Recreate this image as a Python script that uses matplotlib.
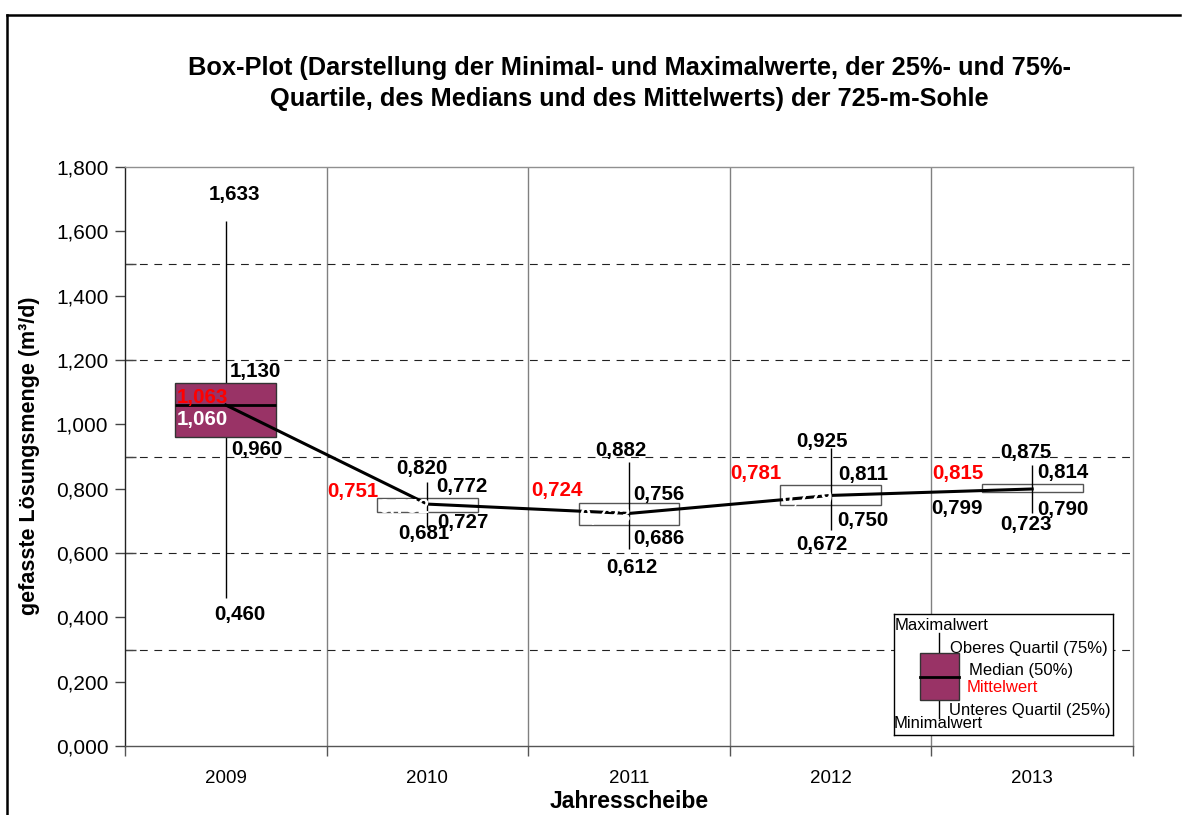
import matplotlib
matplotlib.use("Agg")
import matplotlib.pyplot as plt
from matplotlib.patches import Rectangle
from matplotlib.lines import Line2D
import numpy as np

plt.rcParams['font.family'] = ['Liberation Sans', 'DejaVu Sans']

# ---------------- data ----------------
years = ['2009', '2010', '2011', '2012', '2013']
maxima = [1.633, 0.820, 0.882, 0.925, 0.875]
q3 = [1.130, 0.772, 0.756, 0.811, 0.814]
medians = [1.060, 0.752, 0.723, 0.779, 0.799]
means = [1.063, 0.751, 0.724, 0.781, 0.815]
q1 = [0.960, 0.727, 0.686, 0.750, 0.790]
minima = [0.460, 0.681, 0.612, 0.672, 0.723]

# ---------------- styles / label offsets (pixels) ----------------
box_face = ['#993366', 'white', 'white', 'white', 'white']
box_edge = ['#333333', '#555555', '#555555', '#555555', '#555555']
median_label_color = ['white', 'white', 'white', 'white', 'black']
max_off = [(9, 26), (-5, 14), (-8, 12), (-9, 7), (-6, 12)]
q3_off = [(4, 11), (9, 11), (4, 8), (8, 11), (5, 12)]
q1_off = [(5, -12), (10, -10), (4, -13), (7, -16), (5, -18)]
min_off = [(14, -16), (-4, -7), (3, -18), (-9, -15), (-6, -11)]
mean_off = [(2, 7), (-49, 13), (-46, 23), (-49, 21), (-49, 10)]
median_off = [(2, -14), (2, -3), (2, -3), (2, -3), (-49, -20)]

W, H = 1187, 815
fig = plt.figure(figsize=(W / 100, H / 100), dpi=100)
fig.patch.set_facecolor('white')

L, R, T, B = 125, 1133, 167, 746
ax = fig.add_axes([L / W, (H - B) / H, (R - L) / W, (B - T) / H])
ax.set_xlim(-0.5, len(years) - 0.5)
ax.set_ylim(0, 1.8)

# grid
for xb in np.arange(0.5, len(years) - 0.5, 1.0):
    ax.axvline(xb, color='#808080', lw=1.0, zorder=1)
for yv in [0.3, 0.6, 0.9, 1.2, 1.5]:
    ax.axhline(yv, color='#222222', lw=0.8, ls=(0, (7, 6)), zorder=1)

x = np.arange(len(years))
bw = 0.5
fmt = lambda v: f"{v:.3f}".replace('.', ',')

for i in range(len(years)):
    filled = box_face[i] != 'white'
    ax.plot([x[i], x[i]], [minima[i], maxima[i]], color='black', lw=1.0,
            zorder=3, solid_capstyle='butt')
    ax.add_patch(Rectangle((x[i] - bw / 2, q1[i]), bw, q3[i] - q1[i],
                           facecolor=box_face[i], edgecolor=box_edge[i],
                           lw=1.0, zorder=4 if filled else 2))
    if filled:
        ax.plot([x[i] - bw / 2, x[i] + bw / 2], [medians[i], medians[i]],
                color='black', lw=2.0, zorder=5, solid_capstyle='butt')

ax.plot(x, medians, color='black', lw=2.2, zorder=5)

lab_kw = dict(textcoords='offset pixels', fontsize=14.8, fontweight='bold',
              zorder=7, annotation_clip=False)
for i in range(len(years)):
    ax.annotate(fmt(maxima[i]), (x[i], maxima[i]), xytext=max_off[i],
                ha='center', va='center', color='black', **lab_kw)
    ax.annotate(fmt(q3[i]), (x[i], q3[i]), xytext=q3_off[i],
                ha='left', va='center', color='black', **lab_kw)
    ax.annotate(fmt(q1[i]), (x[i], q1[i]), xytext=q1_off[i],
                ha='left', va='center', color='black', **lab_kw)
    ax.annotate(fmt(minima[i]), (x[i], minima[i]), xytext=min_off[i],
                ha='center', va='center', color='black', **lab_kw)
    ax.annotate(fmt(means[i]), (x[i], means[i]), xytext=mean_off[i],
                ha='right', va='center', color='red', **lab_kw)
    ax.annotate(fmt(medians[i]), (x[i], medians[i]), xytext=median_off[i],
                ha='right', va='center', color=median_label_color[i], **lab_kw)

# axes styling
yt = np.round(np.arange(0, 1.81, 0.2), 1)
ax.set_yticks(yt)
ax.set_yticklabels([fmt(v) for v in yt], fontsize=15)
ax.set_yticks([0.3, 0.6, 0.9, 1.2, 1.5], minor=True)
ax.yaxis.remove_overlapping_locs = False
ax.tick_params(axis='y', which='major', direction='out', length=7, width=1,
               color='#444444', pad=5)
ax.tick_params(axis='y', which='minor', direction='in', length=8, width=1,
               color='#444444')
ax.set_xticks(x)
ax.set_xticklabels(years, fontsize=13.5)
ax.set_xticks(np.arange(-0.5, len(years), 1.0), minor=True)
ax.tick_params(axis='x', which='major', length=0, pad=17)
ax.tick_params(axis='x', which='minor', direction='out', length=7, width=1,
               color='#555555')
ax.spines['left'].set_color('#222222')
ax.spines['bottom'].set_color('#555555')
ax.spines['top'].set_color('#909090')
ax.spines['right'].set_color('#909090')
for s in ax.spines.values():
    s.set_linewidth(1.0)

# titles
fig.text(629 / W, 1 - 68 / H,
         'Box-Plot (Darstellung der Minimal- und Maximalwerte, der 25%- und 75%-',
         ha='center', va='center', fontsize=18.3, fontweight='bold')
fig.text(629 / W, 1 - 99 / H,
         'Quartile, des Medians und des Mittelwerts) der 725-m-Sohle',
         ha='center', va='center', fontsize=18.3, fontweight='bold')
fig.text(30 / W, 1 - 456 / H, 'gefasste Lösungsmenge (m³/d)', rotation=90,
         ha='center', va='center', fontsize=15.5, fontweight='bold')
fig.text(629 / W, 1 - 801 / H, 'Jahresscheibe', ha='center', va='center',
         fontsize=16.5, fontweight='bold')

# figure border
fig.add_artist(Line2D([7 / W, 7 / W], [0, 1 - 15 / H], color='black', lw=1.8,
                      transform=fig.transFigure))
fig.add_artist(Line2D([7 / W, 1180 / W], [1 - 15 / H, 1 - 15 / H], color='black',
                      lw=1.8, transform=fig.transFigure))

# legend box
lx0, ly0, lx1, ly1 = 894, 614, 1113, 735
lg = fig.add_axes([lx0 / W, 1 - ly1 / H, (lx1 - lx0) / W, (ly1 - ly0) / H])
lg.set_xlim(lx0, lx1)
lg.set_ylim(ly1, ly0)
lg.set_xticks([])
lg.set_yticks([])
for s in lg.spines.values():
    s.set_color('black')
    s.set_linewidth(1.0)
lg.plot([939, 939], [633, 718], color='black', lw=1.0)
lg.add_patch(Rectangle((920, 653), 39, 47, facecolor='#993366',
                       edgecolor='#333333', lw=1.0, zorder=3))
lg.plot([920, 959], [677, 677], color='black', lw=2.0, zorder=4)
lt = dict(fontsize=12, va='center')
lg.text(895, 626, 'Maximalwert', ha='left', **lt)
lg.text(950, 648, 'Oberes Quartil (75%)', ha='left', **lt)
lg.text(969, 670, 'Median (50%)', ha='left', **lt)
lg.text(967, 687, 'Mittelwert', ha='left', color='red', **lt)
lg.text(949, 711, 'Unteres Quartil (25%)', ha='left', **lt)
lg.text(894, 724, 'Minimalwert', ha='left', **lt)

fig.savefig('out.png', dpi=100)
